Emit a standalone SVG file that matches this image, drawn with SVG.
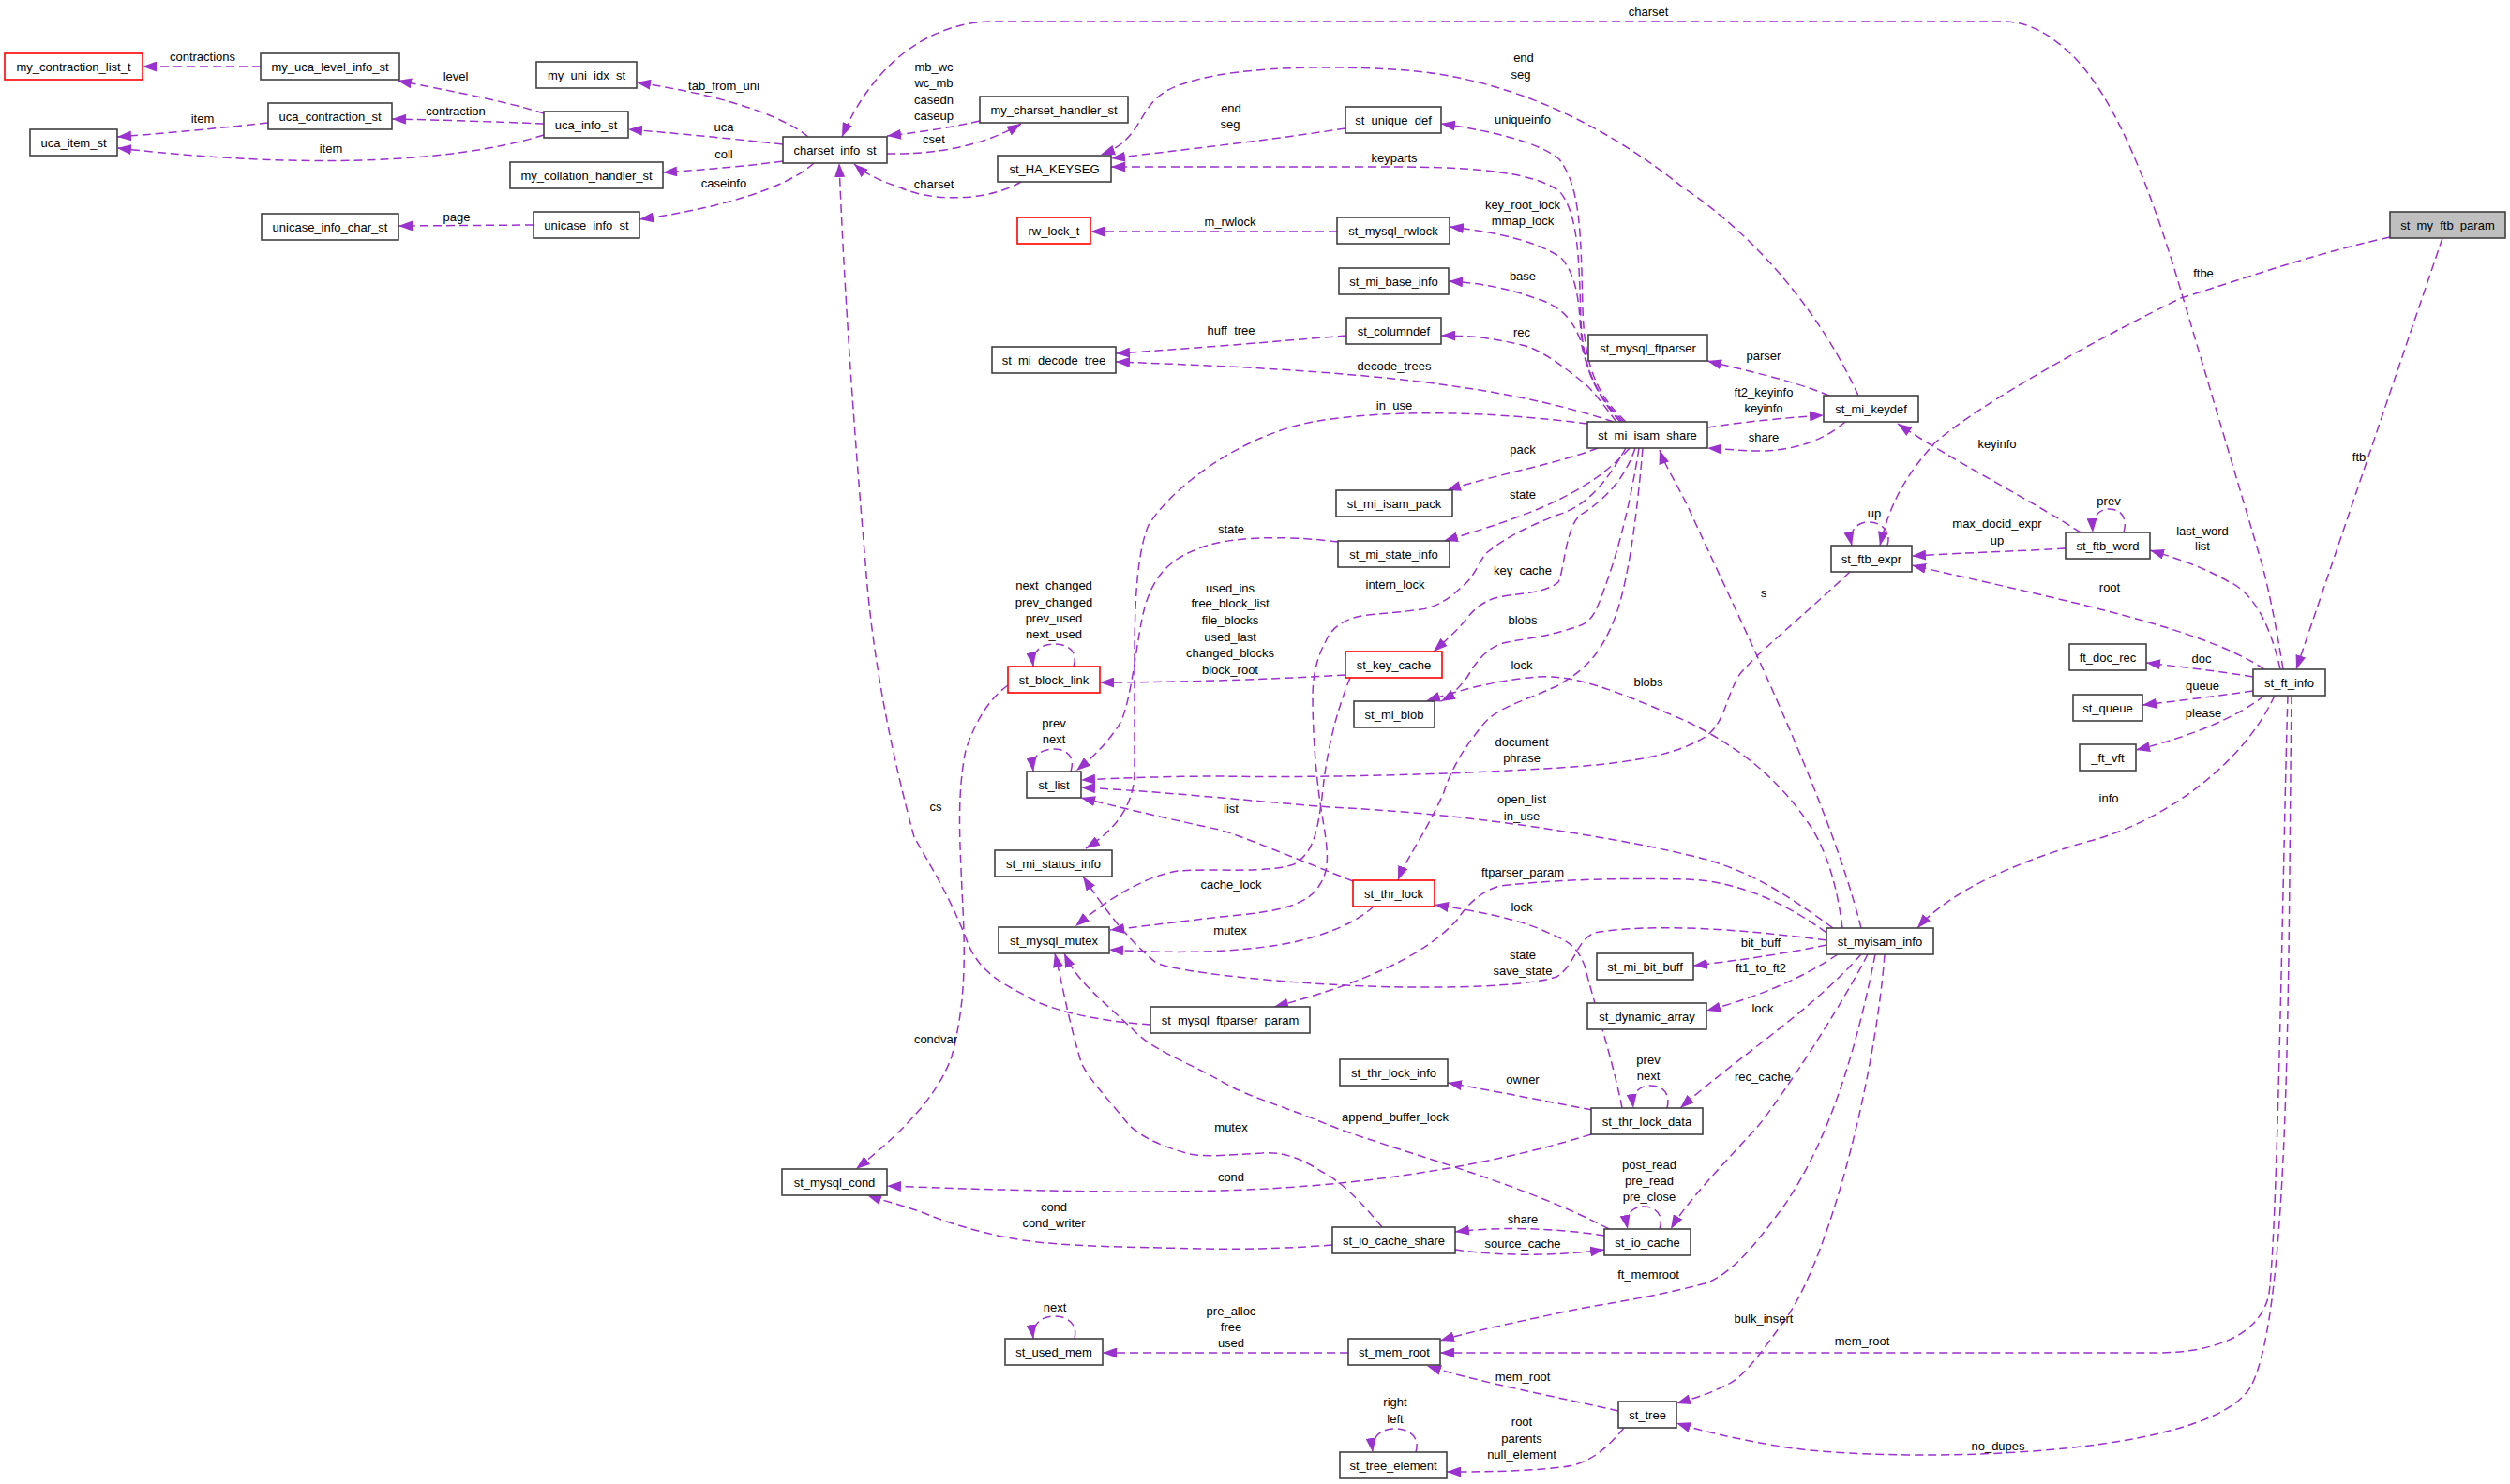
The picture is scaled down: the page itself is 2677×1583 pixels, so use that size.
<svg xmlns="http://www.w3.org/2000/svg" width="2677" height="1583" viewBox="0 0 2677 1583">
<defs>
<marker id="a" markerUnits="userSpaceOnUse" markerWidth="15" markerHeight="11" refX="15" refY="5.5" orient="auto"><path d="M0,0 L15,5.5 L0,11 z" fill="#9a32cd"/></marker>
<style>
.n rect{fill:#fff;stroke:#404040;stroke-width:1.6}
.r rect{stroke:#ff0000}
.g rect{fill:#bfbfbf}
text{font-family:"Liberation Sans",Arial,sans-serif;font-size:13px;text-anchor:middle;fill:#000}
#edges path{fill:none;stroke:#9a32cd;stroke-width:1.5;stroke-dasharray:9,5;marker-end:url(#a)}
</style>
</defs>
<rect width="2677" height="1583" fill="#fff"/>
<g id="edges">
<path d="M278,71 L152,71"/>
<path d="M580,121 C540,108 470,95 424,86"/>
<path d="M580,132 C530,130 470,128 418,127"/>
<path d="M286,131 C230,137 180,142 125,146"/>
<path d="M580,144 C480,175 320,180 125,158"/>
<path d="M862,146 C830,120 760,100 679,88"/>
<path d="M835,154 C780,148 720,142 670,138"/>
<path d="M835,172 C790,178 750,181 707,184"/>
<path d="M868,174 C840,200 770,222 682,234"/>
<path d="M569,240 L425,241"/>
<path d="M1045,129 C1010,137 980,141 946,145"/>
<path d="M946,164 C1000,165 1050,155 1089,132"/>
<path d="M1089,194 C1060,212 1000,218 960,200 C935,192 920,183 911,175"/>
<path d="M2435,714 C2428,670 2420,630 2412,600 L2323,300 C2290,190 2250,90 2200,50 C2180,33 2160,23 2136,23 L1060,23 C990,23 930,70 898,146"/>
<path d="M1435,137 C1350,150 1260,160 1185,169"/>
<path d="M1982,422 C1940,330 1870,250 1795,200 C1720,140 1620,85 1500,75 C1400,68 1290,72 1244,97 C1213,115 1218,150 1174,165"/>
<path d="M1732,450 C1700,420 1688,390 1686,340 C1684,280 1684,230 1664,205 C1640,185 1580,178 1486,178 L1185,178"/>
<path d="M1734,450 C1702,420 1690,390 1688,330 C1686,250 1686,200 1663,170 C1640,150 1580,138 1537,132"/>
<path d="M1426,247 L1163,247"/>
<path d="M1730,450 C1700,420 1688,390 1685,340 C1683,310 1678,290 1665,275 C1640,258 1600,248 1546,242"/>
<path d="M1728,450 C1705,425 1692,395 1686,364 C1675,335 1660,325 1637,318 C1610,308 1580,302 1545,300"/>
<path d="M1436,358 C1350,365 1270,372 1190,377"/>
<path d="M1724,450 C1705,425 1695,412 1686,406 C1660,385 1640,372 1623,368 C1590,360 1565,358 1537,358"/>
<path d="M1721,450 C1600,410 1450,395 1190,386"/>
<path d="M1693,452 C1600,440 1487,435 1400,450 C1322,465 1250,520 1225,560 C1212,590 1210,650 1210,701 L1210,827 C1208,860 1190,885 1158,905"/>
<path d="M1427,578 C1380,572 1310,570 1274,587 C1240,600 1225,625 1218,660 C1210,700 1205,760 1191,777 C1175,800 1160,812 1148,822"/>
<path d="M1704,478 C1660,495 1600,505 1543,523"/>
<path d="M1738,478 C1700,520 1650,545 1540,577"/>
<path d="M1951,422 C1910,405 1860,395 1821,385"/>
<path d="M1821,456 C1860,450 1900,446 1945,443"/>
<path d="M1968,450 C1940,475 1900,482 1870,481 C1850,480 1835,479 1821,478"/>
<path d="M2219,568 C2160,530 2080,490 2024,452"/>
<path d="M2203,585 C2150,588 2090,590 2039,593"/>
<path d="M2013,582 C2018,565 2005,557 1993,557 C1978,557 1972,568 1975,582"/>
<path d="M2549,253 C2470,270 2400,295 2326,318 C2200,380 2100,440 2063,473 C2030,510 2015,540 2005,582"/>
<path d="M2265,568 C2270,550 2260,543 2249,543 C2238,543 2231,552 2232,568"/>
<path d="M2432,714 C2420,660 2400,630 2376,620 C2350,605 2320,595 2293,587"/>
<path d="M2605,254 L2449,714"/>
<path d="M2415,714 C2350,670 2200,640 2039,603"/>
<path d="M2403,722 C2360,715 2330,712 2289,707"/>
<path d="M2403,737 C2360,743 2320,748 2285,752"/>
<path d="M2415,742 C2380,770 2320,790 2278,800"/>
<path d="M2426,742 C2390,820 2300,880 2225,898 C2150,920 2080,950 2045,990"/>
<path d="M2440,742 C2435,900 2430,1300 2420,1380 C2410,1430 2350,1443 2300,1443 L1536,1443"/>
<path d="M2444,742 C2440,1000 2445,1400 2400,1480 C2350,1560 2000,1560 1900,1543 C1850,1535 1810,1525 1788,1518"/>
<path d="M1985,990 C1950,850 1850,650 1800,540 C1785,510 1775,495 1770,480"/>
<path d="M1748,478 C1740,530 1728,580 1715,617 C1705,645 1700,662 1686,667 C1650,680 1620,682 1603,686 C1585,692 1575,705 1565,722 C1555,735 1548,742 1537,748"/>
<path d="M1752,478 C1745,560 1735,630 1720,665 C1705,700 1690,715 1660,732 C1620,750 1595,755 1580,775 C1560,800 1548,820 1540,845 C1520,890 1500,915 1491,939"/>
<path d="M1744,478 C1730,520 1700,540 1686,549 C1670,560 1668,610 1662,621 C1645,635 1615,632 1594,638 C1580,643 1572,650 1565,659 C1555,672 1540,685 1529,695"/>
<path d="M1734,478 C1710,520 1690,540 1662,549 C1620,565 1600,578 1584,591 C1575,605 1570,618 1560,625 C1545,640 1530,648 1516,650 C1480,655 1455,655 1444,659 C1425,665 1418,675 1414,684 C1405,700 1400,720 1400,743 C1400,790 1405,840 1410,869 C1415,900 1420,925 1408,943 C1395,965 1370,972 1302,978 C1250,984 1220,988 1184,992"/>
<path d="M1440,723 C1425,760 1415,800 1410,850 C1405,890 1400,910 1380,922 C1350,932 1300,926 1256,929 C1220,935 1180,960 1147,988"/>
<path d="M1435,720 C1350,725 1250,728 1173,728"/>
<path d="M1145,711 C1150,695 1140,687 1124,687 C1108,687 1100,697 1102,711"/>
<path d="M1075,731 C1055,745 1040,770 1030,800 C1020,850 1024,900 1026,950 C1030,1020 1030,1070 1015,1127 C1000,1170 960,1210 913,1247"/>
<path d="M1142,823 C1147,807 1138,799 1124,799 C1108,799 1100,808 1102,823"/>
<path d="M1973,610 C1920,660 1870,700 1855,720 C1840,745 1840,770 1820,785 C1790,805 1740,815 1646,820 C1550,826 1400,830 1302,828 C1250,828 1190,830 1153,832"/>
<path d="M1955,990 C1900,950 1860,925 1800,912 C1750,900 1700,892 1662,886 C1580,873 1500,865 1419,861 C1340,855 1250,845 1153,840"/>
<path d="M1965,990 C1960,950 1950,910 1930,880 C1890,820 1840,790 1800,770 C1720,735 1680,720 1640,722 C1600,725 1560,735 1521,748"/>
<path d="M1948,995 C1900,960 1850,940 1800,938 C1700,936 1646,940 1600,945 C1580,950 1565,965 1555,980 C1520,1020 1450,1050 1359,1074"/>
<path d="M1948,1003 C1850,990 1760,985 1700,995 C1680,1005 1680,1030 1660,1042 C1620,1055 1500,1055 1417,1050 C1330,1045 1250,1035 1233,1027 C1200,1000 1175,965 1155,935"/>
<path d="M1730,1182 C1720,1130 1700,1070 1690,1030 C1680,1005 1669,1003 1640,990 C1600,975 1560,970 1530,965"/>
<path d="M1465,967 C1440,990 1400,1000 1380,1005 C1320,1017 1250,1017 1183,1013"/>
<path d="M1443,940 C1380,915 1320,890 1300,885 C1230,870 1190,860 1153,851"/>
<path d="M1227,1093 C1180,1090 1120,1080 1090,1060 C1060,1045 1040,1030 1030,1000 C1010,950 990,920 975,893 C950,800 930,700 923,600 C910,450 900,300 895,174"/>
<path d="M1716,1311 C1620,1260 1480,1225 1417,1200 C1370,1180 1330,1170 1302,1153 C1260,1130 1230,1120 1210,1100 C1180,1070 1150,1050 1135,1017"/>
<path d="M1474,1309 C1450,1280 1430,1260 1410,1250 C1390,1237 1370,1228 1346,1230 C1310,1232 1280,1235 1265,1230 C1230,1220 1215,1210 1204,1200 C1180,1170 1160,1150 1153,1133 C1140,1090 1133,1050 1125,1017"/>
<path d="M1697,1210 C1600,1240 1500,1255 1429,1262 C1350,1270 1280,1271 1219,1271 C1100,1271 1000,1267 946,1265"/>
<path d="M1421,1328 C1370,1332 1320,1333 1283,1332 C1200,1330 1140,1330 1091,1323 C1040,1315 1000,1300 983,1293 C960,1285 940,1280 925,1275"/>
<path d="M1698,1184 C1650,1175 1600,1165 1544,1155"/>
<path d="M1778,1182 C1782,1165 1772,1158 1760,1158 C1748,1158 1740,1166 1742,1182"/>
<path d="M1985,1018 C1930,1080 1850,1130 1792,1182"/>
<path d="M1948,1008 C1900,1018 1850,1025 1806,1030"/>
<path d="M1960,1018 C1920,1045 1870,1065 1820,1078"/>
<path d="M1992,1018 C1960,1080 1900,1170 1876,1200 C1840,1240 1800,1280 1782,1311"/>
<path d="M2000,1018 C1980,1120 1950,1220 1900,1290 C1870,1330 1850,1355 1822,1368 C1760,1385 1700,1392 1665,1400 C1610,1412 1570,1420 1536,1430"/>
<path d="M2010,1018 C2000,1150 1950,1350 1900,1413 C1880,1440 1860,1470 1840,1478 C1820,1488 1805,1492 1788,1497"/>
<path d="M1711,1318 C1660,1310 1600,1308 1552,1314"/>
<path d="M1552,1333 C1600,1340 1660,1340 1711,1333"/>
<path d="M1770,1311 C1775,1295 1765,1287 1753,1287 C1740,1287 1733,1296 1736,1311"/>
<path d="M1438,1443 L1176,1443"/>
<path d="M1146,1428 C1150,1412 1138,1404 1125,1404 C1110,1404 1100,1413 1102,1428"/>
<path d="M1726,1505 C1660,1490 1580,1475 1522,1457"/>
<path d="M1732,1523 C1710,1550 1690,1563 1665,1565 C1620,1570 1580,1570 1543,1570"/>
<path d="M1510,1549 C1515,1532 1502,1524 1488,1524 C1472,1524 1462,1533 1464,1549"/>
</g>
<g id="edge-labels">
<text x="216" y="65">contractions</text>
<text x="486" y="86">level</text>
<text x="486" y="123">contraction</text>
<text x="216" y="131">item</text>
<text x="353" y="163">item</text>
<text x="772" y="96">tab_from_uni</text>
<text x="772" y="140">uca</text>
<text x="772" y="169">coll</text>
<text x="772" y="200">caseinfo</text>
<text x="487" y="236">page</text>
<text x="996" y="76">mb_wc</text>
<text x="996" y="93">wc_mb</text>
<text x="996" y="111">casedn</text>
<text x="996" y="128">caseup</text>
<text x="996" y="153">cset</text>
<text x="996" y="201">charset</text>
<text x="1758" y="17">charset</text>
<text x="1313" y="120">end</text>
<text x="1312" y="137">seg</text>
<text x="1625" y="66">end</text>
<text x="1622" y="84">seg</text>
<text x="1487" y="173">keyparts</text>
<text x="1624" y="132">uniqueinfo</text>
<text x="1312" y="241">m_rwlock</text>
<text x="1624" y="223">key_root_lock</text>
<text x="1624" y="240">mmap_lock</text>
<text x="1624" y="299">base</text>
<text x="1313" y="357">huff_tree</text>
<text x="1623" y="359">rec</text>
<text x="1487" y="395">decode_trees</text>
<text x="1487" y="437">in_use</text>
<text x="1881" y="384">parser</text>
<text x="1881" y="423">ft2_keyinfo</text>
<text x="1881" y="440">keyinfo</text>
<text x="1881" y="471">share</text>
<text x="1624" y="484">pack</text>
<text x="1624" y="532">state</text>
<text x="1313" y="569">state</text>
<text x="2350" y="296">ftbe</text>
<text x="2516" y="492">ftb</text>
<text x="2130" y="478">keyinfo</text>
<text x="1999" y="552">up</text>
<text x="2130" y="563">max_docid_expr</text>
<text x="2130" y="581">up</text>
<text x="2249" y="539">prev</text>
<text x="2349" y="571">last_word</text>
<text x="2349" y="587">list</text>
<text x="2250" y="631">root</text>
<text x="1881" y="637">s</text>
<text x="2348" y="707">doc</text>
<text x="2349" y="736">queue</text>
<text x="2350" y="765">please</text>
<text x="2249" y="856">info</text>
<text x="1624" y="613">key_cache</text>
<text x="1488" y="628">intern_lock</text>
<text x="1624" y="666">blobs</text>
<text x="1623" y="714">lock</text>
<text x="1758" y="732">blobs</text>
<text x="1124" y="629">next_changed</text>
<text x="1124" y="647">prev_changed</text>
<text x="1124" y="664">prev_used</text>
<text x="1124" y="681">next_used</text>
<text x="1312" y="632">used_ins</text>
<text x="1312" y="648">free_block_list</text>
<text x="1312" y="666">file_blocks</text>
<text x="1312" y="684">used_last</text>
<text x="1312" y="701">changed_blocks</text>
<text x="1312" y="719">block_root</text>
<text x="1124" y="776">prev</text>
<text x="1124" y="793">next</text>
<text x="1623" y="796">document</text>
<text x="1623" y="813">phrase</text>
<text x="1623" y="857">open_list</text>
<text x="1623" y="875">in_use</text>
<text x="1313" y="867">list</text>
<text x="998" y="865">cs</text>
<text x="1313" y="948">cache_lock</text>
<text x="1624" y="935">ftparser_param</text>
<text x="1623" y="972">lock</text>
<text x="1312" y="997">mutex</text>
<text x="1624" y="1023">state</text>
<text x="1624" y="1040">save_state</text>
<text x="1878" y="1010">bit_buff</text>
<text x="1878" y="1037">ft1_to_ft2</text>
<text x="1880" y="1080">lock</text>
<text x="998" y="1113">condvar</text>
<text x="1624" y="1156">owner</text>
<text x="1758" y="1135">prev</text>
<text x="1758" y="1152">next</text>
<text x="1880" y="1153">rec_cache</text>
<text x="1488" y="1196">append_buffer_lock</text>
<text x="1313" y="1207">mutex</text>
<text x="1313" y="1260">cond</text>
<text x="1124" y="1292">cond</text>
<text x="1124" y="1309">cond_writer</text>
<text x="1759" y="1247">post_read</text>
<text x="1759" y="1264">pre_read</text>
<text x="1759" y="1281">pre_close</text>
<text x="1624" y="1305">share</text>
<text x="1624" y="1331">source_cache</text>
<text x="1758" y="1364">ft_memroot</text>
<text x="1125" y="1399">next</text>
<text x="1313" y="1403">pre_alloc</text>
<text x="1313" y="1420">free</text>
<text x="1313" y="1437">used</text>
<text x="1881" y="1411">bulk_insert</text>
<text x="1986" y="1435">mem_root</text>
<text x="1624" y="1473">mem_root</text>
<text x="1488" y="1500">right</text>
<text x="1488" y="1518">left</text>
<text x="1623" y="1521">root</text>
<text x="1623" y="1539">parents</text>
<text x="1623" y="1556">null_element</text>
<text x="2131" y="1547">no_dupes</text>
</g>
<g id="my_contraction_list_t" class="n r"><rect x="5" y="57" width="147" height="28"/><text x="78.5" y="75.5">my_contraction_list_t</text></g>
<g id="my_uca_level_info_st" class="n"><rect x="278" y="57" width="148" height="28"/><text x="352" y="75.5">my_uca_level_info_st</text></g>
<g id="my_uni_idx_st" class="n"><rect x="572" y="66" width="107" height="28"/><text x="625.5" y="84.5">my_uni_idx_st</text></g>
<g id="uca_contraction_st" class="n"><rect x="286" y="110" width="132" height="28"/><text x="352" y="128.5">uca_contraction_st</text></g>
<g id="uca_item_st" class="n"><rect x="32" y="138" width="93" height="28"/><text x="78.5" y="156.5">uca_item_st</text></g>
<g id="uca_info_st" class="n"><rect x="580" y="119" width="90" height="28"/><text x="625" y="137.5">uca_info_st</text></g>
<g id="charset_info_st" class="n"><rect x="835" y="146" width="111" height="28"/><text x="890.5" y="164.5">charset_info_st</text></g>
<g id="my_charset_handler_st" class="n"><rect x="1045" y="103" width="158" height="28"/><text x="1124" y="121.5">my_charset_handler_st</text></g>
<g id="my_collation_handler_st" class="n"><rect x="544" y="173" width="163" height="28"/><text x="625.5" y="191.5">my_collation_handler_st</text></g>
<g id="unicase_info_char_st" class="n"><rect x="279" y="228" width="146" height="28"/><text x="352" y="246.5">unicase_info_char_st</text></g>
<g id="unicase_info_st" class="n"><rect x="569" y="226" width="113" height="28"/><text x="625.5" y="244.5">unicase_info_st</text></g>
<g id="st_HA_KEYSEG" class="n"><rect x="1064" y="166" width="121" height="28"/><text x="1124.5" y="184.5">st_HA_KEYSEG</text></g>
<g id="st_unique_def" class="n"><rect x="1435" y="114" width="102" height="28"/><text x="1486" y="132.5">st_unique_def</text></g>
<g id="rw_lock_t" class="n r"><rect x="1085" y="232" width="78" height="28"/><text x="1124" y="250.5">rw_lock_t</text></g>
<g id="st_mysql_rwlock" class="n"><rect x="1426" y="232" width="120" height="28"/><text x="1486" y="250.5">st_mysql_rwlock</text></g>
<g id="st_mi_base_info" class="n"><rect x="1428" y="286" width="117" height="28"/><text x="1486.5" y="304.5">st_mi_base_info</text></g>
<g id="st_columndef" class="n"><rect x="1436" y="339" width="101" height="28"/><text x="1486.5" y="357.5">st_columndef</text></g>
<g id="st_mi_decode_tree" class="n"><rect x="1058" y="370" width="132" height="28"/><text x="1124" y="388.5">st_mi_decode_tree</text></g>
<g id="st_mysql_ftparser" class="n"><rect x="1694" y="357" width="127" height="28"/><text x="1757.5" y="375.5">st_mysql_ftparser</text></g>
<g id="st_mi_isam_share" class="n"><rect x="1693" y="450" width="128" height="28"/><text x="1757" y="468.5">st_mi_isam_share</text></g>
<g id="st_mi_keydef" class="n"><rect x="1945" y="422" width="101" height="28"/><text x="1995.5" y="440.5">st_mi_keydef</text></g>
<g id="st_mi_isam_pack" class="n"><rect x="1425" y="523" width="124" height="28"/><text x="1487" y="541.5">st_mi_isam_pack</text></g>
<g id="st_mi_state_info" class="n"><rect x="1427" y="577" width="119" height="28"/><text x="1486.5" y="595.5">st_mi_state_info</text></g>
<g id="st_ftb_expr" class="n"><rect x="1953" y="582" width="86" height="28"/><text x="1996" y="600.5">st_ftb_expr</text></g>
<g id="st_ftb_word" class="n"><rect x="2203" y="568" width="90" height="28"/><text x="2248" y="586.5">st_ftb_word</text></g>
<g id="st_my_ftb_param" class="n g"><rect x="2549" y="226" width="123" height="28"/><text x="2610.5" y="244.5">st_my_ftb_param</text></g>
<g id="st_block_link" class="n r"><rect x="1075" y="711" width="98" height="28"/><text x="1124" y="729.5">st_block_link</text></g>
<g id="st_key_cache" class="n r"><rect x="1435" y="695" width="103" height="28"/><text x="1486.5" y="713.5">st_key_cache</text></g>
<g id="st_mi_blob" class="n"><rect x="1444" y="748" width="86" height="28"/><text x="1487" y="766.5">st_mi_blob</text></g>
<g id="st_list" class="n"><rect x="1095" y="823" width="58" height="28"/><text x="1124" y="841.5">st_list</text></g>
<g id="ft_doc_rec" class="n"><rect x="2207" y="687" width="82" height="28"/><text x="2248" y="705.5">ft_doc_rec</text></g>
<g id="st_ft_info" class="n"><rect x="2403" y="714" width="77" height="28"/><text x="2441.5" y="732.5">st_ft_info</text></g>
<g id="st_queue" class="n"><rect x="2211" y="741" width="74" height="28"/><text x="2248" y="759.5">st_queue</text></g>
<g id="_ft_vft" class="n"><rect x="2218" y="794" width="60" height="28"/><text x="2248" y="812.5">_ft_vft</text></g>
<g id="st_mi_status_info" class="n"><rect x="1061" y="907" width="125" height="28"/><text x="1123.5" y="925.5">st_mi_status_info</text></g>
<g id="st_thr_lock" class="n r"><rect x="1443" y="939" width="87" height="28"/><text x="1486.5" y="957.5">st_thr_lock</text></g>
<g id="st_mysql_mutex" class="n"><rect x="1065" y="989" width="118" height="28"/><text x="1124" y="1007.5">st_mysql_mutex</text></g>
<g id="st_myisam_info" class="n"><rect x="1948" y="990" width="114" height="28"/><text x="2005" y="1008.5">st_myisam_info</text></g>
<g id="st_mi_bit_buff" class="n"><rect x="1703" y="1017" width="103" height="28"/><text x="1754.5" y="1035.5">st_mi_bit_buff</text></g>
<g id="st_dynamic_array" class="n"><rect x="1693" y="1070" width="127" height="28"/><text x="1756.5" y="1088.5">st_dynamic_array</text></g>
<g id="st_mysql_ftparser_param" class="n"><rect x="1227" y="1074" width="170" height="28"/><text x="1312" y="1092.5">st_mysql_ftparser_param</text></g>
<g id="st_thr_lock_info" class="n"><rect x="1429" y="1130" width="115" height="28"/><text x="1486.5" y="1148.5">st_thr_lock_info</text></g>
<g id="st_thr_lock_data" class="n"><rect x="1697" y="1182" width="119" height="28"/><text x="1756.5" y="1200.5">st_thr_lock_data</text></g>
<g id="st_mysql_cond" class="n"><rect x="834" y="1247" width="112" height="28"/><text x="890" y="1265.5">st_mysql_cond</text></g>
<g id="st_io_cache_share" class="n"><rect x="1421" y="1309" width="131" height="28"/><text x="1486.5" y="1327.5">st_io_cache_share</text></g>
<g id="st_io_cache" class="n"><rect x="1711" y="1311" width="92" height="28"/><text x="1757" y="1329.5">st_io_cache</text></g>
<g id="st_used_mem" class="n"><rect x="1072" y="1428" width="104" height="28"/><text x="1124" y="1446.5">st_used_mem</text></g>
<g id="st_mem_root" class="n"><rect x="1438" y="1428" width="98" height="28"/><text x="1487" y="1446.5">st_mem_root</text></g>
<g id="st_tree" class="n"><rect x="1726" y="1495" width="62" height="28"/><text x="1757" y="1513.5">st_tree</text></g>
<g id="st_tree_element" class="n"><rect x="1429" y="1549" width="114" height="28"/><text x="1486" y="1567.5">st_tree_element</text></g>
</svg>
